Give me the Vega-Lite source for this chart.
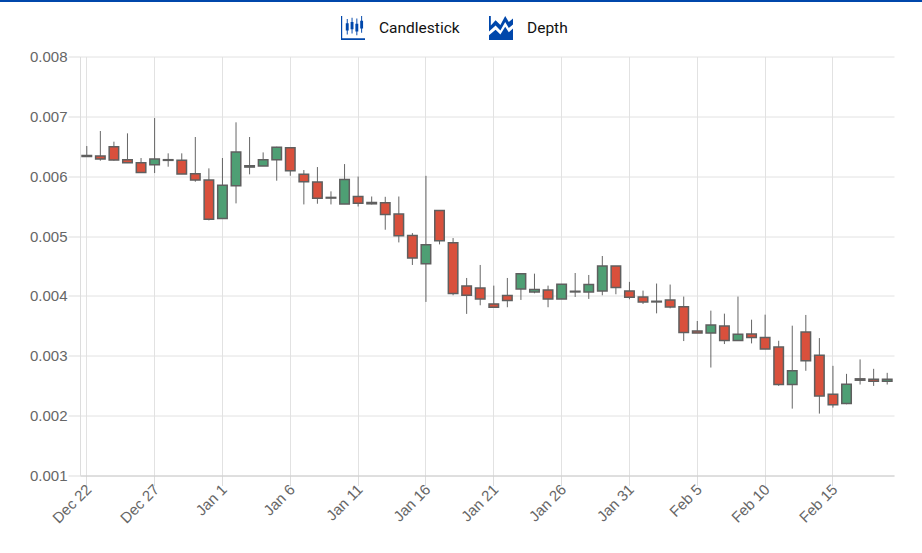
{"$schema":"https://vega.github.io/schema/vega-lite/v6.json","width":814,"height":419,"autosize":"none","padding":{"left":80,"top":56.5,"right":28,"bottom":77.5},"background":"white",
"datasets":{"candles":[
{"d":"Dec 22","open":6.348,"close":6.331,"high":6.504,"low":6.331,"dir":"up"},
{"d":"Dec 23","open":6.337,"close":6.287,"high":6.755,"low":6.259,"dir":"down"},
{"d":"Dec 24","open":6.493,"close":6.27,"high":6.577,"low":6.26,"dir":"down"},
{"d":"Dec 25","open":6.276,"close":6.226,"high":6.716,"low":6.22,"dir":"down"},
{"d":"Dec 26","open":6.226,"close":6.064,"high":6.304,"low":6.064,"dir":"down"},
{"d":"Dec 27","open":6.192,"close":6.287,"high":6.972,"low":6.053,"dir":"up"},
{"d":"Dec 28","open":6.265,"close":6.276,"high":6.382,"low":6.159,"dir":"up"},
{"d":"Dec 29","open":6.265,"close":6.036,"high":6.382,"low":6.036,"dir":"down"},
{"d":"Dec 30","open":6.042,"close":5.936,"high":6.655,"low":5.908,"dir":"down"},
{"d":"Dec 31","open":5.936,"close":5.279,"high":6.131,"low":5.262,"dir":"down"},
{"d":"Jan 1","open":5.295,"close":5.847,"high":6.304,"low":5.295,"dir":"up"},
{"d":"Jan 2","open":5.841,"close":6.404,"high":6.9,"low":5.546,"dir":"up"},
{"d":"Jan 3","open":6.153,"close":6.175,"high":6.655,"low":6.031,"dir":"up"},
{"d":"Jan 4","open":6.17,"close":6.276,"high":6.398,"low":6.17,"dir":"up"},
{"d":"Jan 5","open":6.276,"close":6.482,"high":6.493,"low":5.925,"dir":"up"},
{"d":"Jan 6","open":6.476,"close":6.092,"high":6.476,"low":6.008,"dir":"down"},
{"d":"Jan 7","open":6.031,"close":5.908,"high":6.103,"low":5.529,"dir":"down"},
{"d":"Jan 8","open":5.903,"close":5.63,"high":6.153,"low":5.54,"dir":"down"},
{"d":"Jan 9","open":5.635,"close":5.646,"high":5.747,"low":5.529,"dir":"up"},
{"d":"Jan 10","open":5.535,"close":5.947,"high":6.203,"low":5.535,"dir":"up"},
{"d":"Jan 11","open":5.661,"close":5.55,"high":5.994,"low":5.494,"dir":"down"},
{"d":"Jan 12","open":5.561,"close":5.539,"high":5.661,"low":5.528,"dir":"down"},
{"d":"Jan 13","open":5.556,"close":5.361,"high":5.656,"low":5.106,"dir":"down"},
{"d":"Jan 14","open":5.367,"close":5.006,"high":5.661,"low":4.894,"dir":"down"},
{"d":"Jan 15","open":5.011,"close":4.633,"high":5.05,"low":4.517,"dir":"down"},
{"d":"Jan 16","open":4.539,"close":4.856,"high":6.006,"low":3.9,"dir":"up"},
{"d":"Jan 17","open":5.428,"close":4.922,"high":5.428,"low":4.861,"dir":"down"},
{"d":"Jan 18","open":4.889,"close":4.039,"high":4.967,"low":4.011,"dir":"down"},
{"d":"Jan 19","open":4.167,"close":4.011,"high":4.3,"low":3.7,"dir":"down"},
{"d":"Jan 20","open":4.133,"close":3.95,"high":4.517,"low":3.844,"dir":"down"},
{"d":"Jan 21","open":3.867,"close":3.811,"high":4.172,"low":3.811,"dir":"down"},
{"d":"Jan 22","open":4.006,"close":3.922,"high":4.3,"low":3.811,"dir":"down"},
{"d":"Jan 23","open":4.117,"close":4.372,"high":4.383,"low":3.933,"dir":"up"},
{"d":"Jan 24","open":4.067,"close":4.106,"high":4.372,"low":4.044,"dir":"up"},
{"d":"Jan 25","open":4.1,"close":3.95,"high":4.172,"low":3.811,"dir":"down"},
{"d":"Jan 26","open":3.95,"close":4.194,"high":4.2,"low":3.95,"dir":"up"},
{"d":"Jan 27","open":4.067,"close":4.078,"high":4.383,"low":3.983,"dir":"up"},
{"d":"Jan 28","open":4.067,"close":4.189,"high":4.35,"low":3.95,"dir":"up"},
{"d":"Jan 29","open":4.083,"close":4.5,"high":4.667,"low":4.011,"dir":"up"},
{"d":"Jan 30","open":4.5,"close":4.139,"high":4.5,"low":4.028,"dir":"down"},
{"d":"Jan 31","open":4.084,"close":3.978,"high":4.235,"low":3.944,"dir":"down"},
{"d":"Feb 1","open":3.983,"close":3.9,"high":4.089,"low":3.866,"dir":"down"},
{"d":"Feb 2","open":3.911,"close":3.9,"high":4.207,"low":3.709,"dir":"down"},
{"d":"Feb 3","open":3.933,"close":3.816,"high":4.19,"low":3.793,"dir":"down"},
{"d":"Feb 4","open":3.821,"close":3.391,"high":3.989,"low":3.246,"dir":"down"},
{"d":"Feb 5","open":3.413,"close":3.38,"high":3.581,"low":3.38,"dir":"down"},
{"d":"Feb 6","open":3.38,"close":3.514,"high":3.754,"low":2.804,"dir":"up"},
{"d":"Feb 7","open":3.497,"close":3.257,"high":3.704,"low":3.196,"dir":"down"},
{"d":"Feb 8","open":3.257,"close":3.358,"high":3.989,"low":3.257,"dir":"up"},
{"d":"Feb 9","open":3.363,"close":3.307,"high":3.603,"low":3.207,"dir":"down"},
{"d":"Feb 10","open":3.307,"close":3.112,"high":3.687,"low":3.112,"dir":"down"},
{"d":"Feb 11","open":3.145,"close":2.52,"high":3.251,"low":2.497,"dir":"down"},
{"d":"Feb 12","open":2.52,"close":2.749,"high":3.503,"low":2.117,"dir":"up"},
{"d":"Feb 13","open":3.397,"close":2.916,"high":3.682,"low":2.749,"dir":"down"},
{"d":"Feb 14","open":3.011,"close":2.33,"high":3.296,"low":2.034,"dir":"down"},
{"d":"Feb 15","open":2.358,"close":2.184,"high":2.832,"low":2.134,"dir":"down"},
{"d":"Feb 16","open":2.201,"close":2.525,"high":2.698,"low":2.19,"dir":"up"},
{"d":"Feb 17","open":2.615,"close":2.592,"high":2.939,"low":2.52,"dir":"down"},
{"d":"Feb 18","open":2.609,"close":2.575,"high":2.782,"low":2.497,"dir":"down"},
{"d":"Feb 19","open":2.575,"close":2.609,"high":2.715,"low":2.52,"dir":"up"}
],"tools":[{"tool":"Candlestick"},{"tool":"Depth"}],"band":[{"a":0,"b":1,"level":8.927}]},
"layer":[
{"layer":[
{"data":{"name":"candles"},"mark":{"type":"bar","size":10,"opacity":0},
"encoding":{"x":{"field":"d","type":"ordinal","sort":null,"title":null,"scale":{"type":"band","paddingInner":0,"paddingOuter":0},
"axis":{"values":["Dec 22","Dec 27","Jan 1","Jan 6","Jan 11","Jan 16","Jan 21","Jan 26","Jan 31","Feb 5","Feb 10","Feb 15"],"labelAngle":-45,"labelAlign":"right","labelBaseline":"middle","labelFont":"Liberation Sans","labelFontSize":15,"labelColor":"#666666","labelOffset":2,"tickColor":"#dddddd","tickSize":10,"domainColor":"#cccccc","grid":true,"gridColor":"#e2e2e2","labelPadding":1}},
"y":{"field":"low","type":"quantitative","title":null,"scale":{"domain":[1,8],"nice":false,"zero":false},
"axis":{"values":[1,2,3,4,5,6,7,8],"labelExpr":"format(datum.value/1000,'.3f')","labelFont":"Liberation Sans","labelFontSize":15,"labelColor":"#666666","tickColor":"#dddddd","tickSize":12,"domainColor":"#dddddd","grid":true,"gridColor":"#e2e2e2","labelPadding":1}},
"y2":{"field":"high"}}},
{"data":{"name":"candles"},"mark":{"type":"rule","color":"#555555","strokeWidth":1,"opacity":0.9},
"encoding":{"x":{"field":"d","type":"ordinal","sort":null},"y":{"field":"low","type":"quantitative"},"y2":{"field":"high"}}},
{"data":{"name":"candles"},"mark":{"type":"bar","size":9.5,"stroke":"#5f5f5f","strokeWidth":1.5},
"encoding":{"x":{"field":"d","type":"ordinal","sort":null},"y":{"field":"open","type":"quantitative"},"y2":{"field":"close"},
"fill":{"field":"dir","type":"nominal","legend":null,"scale":{"domain":["down","up"],"range":["#d9503c","#4e9f74"]}}}},
{"data":{"name":"tools"},"mark":{"type":"point","filled":true,"size":0,"opacity":1,"color":"#0047ab"},
"encoding":{"shape":{"field":"tool","type":"nominal","title":null,"scale":{"domain":["Candlestick","Depth"],"range":["M-1 -1H-.9V.86H1V1H-1ZM-.6 -.4H-.52V-.75H-.44V-.4H-.36V.2H-.44V.55H-.52V.2H-.6ZM-.2 -.5H-.12V-.85H-.04V-.5H.04V.1H-.04V.45H-.12V.1H-.2ZM.2 -.35H.28V-.8H.36V-.35H.44V.3H.36V.6H.28V.3H.2ZM.6 -.6H.68V-1H.76V-.6H.84V.05H.76V.4H.68V.05H.6Z","M-1 -1H-.85V-.2L-.45 -.65L-.05 -.25L.35 -1L.65 -.5L1 -.8V-.3L.65 0L.35 -.5L-.05 .2L-.45 -.2L-1 .3ZM-1 .6L-.45 .15L-.05 .55L.35 -.1L.65 .35L1 .05V1H-1Z"]},
"legend":{"orient":"none","legendX":261,"legendY":-40.5,"direction":"horizontal","columns":2,"columnPadding":29,"symbolSize":576,"symbolFillColor":"#0047ab","symbolStrokeColor":"#0047ab","symbolStrokeWidth":0,"symbolOpacity":1,"labelFont":"Roboto","labelFontSize":15.5,"labelColor":"#111111","labelOffset":14,"labelLimit":200}}}}
]},
{"data":{"name":"band"},"mark":{"type":"rule","color":"#0047ab","strokeWidth":2,"clip":false},
"encoding":{"x":{"field":"a","type":"quantitative","scale":{"domain":[0,1],"range":[-80,842]},"axis":null},"x2":{"field":"b"},"y":{"field":"level","type":"quantitative"}}}
],"resolve":{"scale":{"x":"independent"},"axis":{"x":"independent"}},"config":{"view":{"stroke":null}}}
